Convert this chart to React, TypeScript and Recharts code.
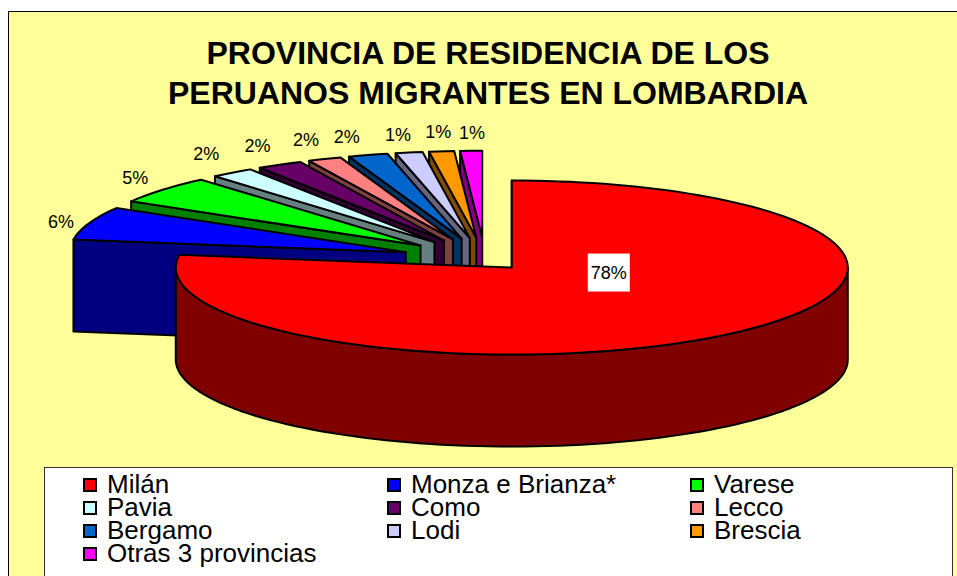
import React from "react";
import { PieChart, Pie, Legend } from "recharts";

const provinces = ["Milán", "Monza e Brianza*", "Varese", "Pavia", "Como", "Lecco", "Bergamo", "Lodi", "Brescia", "Otras 3 provincias"];
const shares = [77.5, 6.15, 5.2, 2.1, 2.2, 1.6, 1.9, 1.3, 1.2, 1.05];
const labels = ["78%", "6%", "5%", "2%", "2%", "2%", "2%", "1%", "1%", "1%"];
const topColors = ["#FF0000", "#0000FF", "#00FF00", "#CCFFFF", "#660066", "#FF8080", "#0066CC", "#CCCCFF", "#FF9900", "#FF00FF"];
const wallColors = ["#800000", "#000080", "#008000", "#668080", "#330033", "#804040", "#003366", "#666680", "#804C00", "#800080"];
const titleLines = ["PROVINCIA DE RESIDENCIA DE LOS", "PERUANOS MIGRANTES EN LOMBARDIA"];

const FONT = "'Liberation Sans', Arial, sans-serif";
const RX = 336;
const SQUASH = 87 / 336;
const DEPTH = 92;
const explodeOf = (i: number) => (i === 0 ? 41 : 84);
const rad = (d: number) => (d * Math.PI) / 180;
const labelNudgeX = [0, 3, -2, -6, -6, -6, -12, -5, 0, 2];
const labelNudgeY = [0, 5, 0, -3, -2, -1, 0, 1, 0, 1];

// The largest slice paints last, so it sits in front of the others.
const rows = provinces
  .map((name, i) => ({ name, value: shares[i], index: i, label: labels[i] }))
  .reverse();

function geometry(p: any) {
  const cwA = 90 - p.endAngle + 360;
  const cwB = 90 - p.startAngle + 360;
  const mid = (cwA + cwB) / 2;
  const e = explodeOf(p.payload?.index ?? p.index);
  const ax = p.cx + e * Math.sin(rad(mid));
  const ay = p.cy - e * SQUASH * Math.cos(rad(mid));
  const pt = (a: number, dy = 0): [number, number] => [
    ax + RX * Math.sin(rad(a)),
    ay - RX * SQUASH * Math.cos(rad(a)) + dy,
  ];
  return { cwA, cwB, mid, ax, ay, pt };
}

function arcPoints(pt: any, a: number, b: number, dy = 0) {
  const out: string[] = [];
  const n = Math.max(2, Math.ceil(Math.abs(b - a) / 2));
  for (let k = 0; k <= n; k++) {
    const [x, y] = pt(a + ((b - a) * k) / n, dy);
    out.push(`${x.toFixed(2)},${y.toFixed(2)}`);
  }
  return out;
}

function Slice3D(p: any) {
  const idx = p.payload?.index ?? p.index;
  const { cwA, cwB, ax, ay, pt } = geometry(p);
  const top = [`${ax},${ay}`, ...arcPoints(pt, cwA, cwB)].join(" ");
  const [sx, sy] = pt(cwA);
  const face = `${ax},${ay} ${sx},${sy} ${sx},${sy + DEPTH} ${ax},${ay + DEPTH}`;
  const a = Math.max(cwA, 90);
  const b = Math.min(cwB, 270);
  const rim = b > a ? [...arcPoints(pt, a, b), ...arcPoints(pt, b, a, DEPTH)].join(" ") : null;
  const common = { stroke: "#000", strokeWidth: 2, strokeLinejoin: "round" as const };
  return (
    <g>
      <polygon points={face} fill={wallColors[idx]} {...common} />
      {rim && <polygon points={rim} fill={wallColors[idx]} {...common} />}
      <polygon points={top} fill={topColors[idx]} {...common} />
    </g>
  );
}

function SliceLabel(p: any) {
  const idx = p.payload?.index ?? p.index;
  const { ax, ay, mid, pt } = geometry(p);
  if (idx === 0) {
    const x = ax + 97;
    const y = ay + 5;
    return (
      <g>
        <rect x={x - 21} y={y - 19} width={42} height={38} fill="#fff" />
        <text x={x} y={y} textAnchor="middle" dominantBaseline="central" fontFamily={FONT} fontSize={18} fill="#000">
          {labels[idx]}
        </text>
      </g>
    );
  }
  const [ox, oy] = pt(mid);
  return (
    <text
      x={ox + 33 * Math.sin(rad(mid)) + labelNudgeX[idx]}
      y={oy - 19 * Math.cos(rad(mid)) + labelNudgeY[idx]}
      textAnchor="middle"
      dominantBaseline="central"
      fontFamily={FONT}
      fontSize={18}
      fill="#000"
    >
      {labels[idx]}
    </text>
  );
}

const legendRows = [484, 507, 530, 553];
const legendCols = [83, 387, 690];

function LegendBox() {
  return (
    <div style={{ position: "absolute", left: 44, top: 467, width: 909, height: 120, background: "#fff", border: "1px solid #333", boxSizing: "border-box" }}>
      {provinces.map((name, i) => {
        const col = i % 3;
        const row = Math.floor(i / 3);
        return (
          <div key={name} style={{ position: "absolute", left: legendCols[col] - 45, top: legendRows[row] - 468 - 14, height: 28, display: "flex", alignItems: "center", whiteSpace: "nowrap" }}>
            <span style={{ display: "inline-block", width: 10, height: 10, marginRight: 10, marginTop: 2, background: topColors[i], border: "2px solid #000" }} />
            <span style={{ fontFamily: FONT, fontSize: 26, color: "#000", lineHeight: "28px" }}>{name}</span>
          </div>
        );
      })}
    </div>
  );
}

export default function App() {
  return (
    <div style={{ position: "fixed", left: 0, top: 0, width: 957, height: 576, overflow: "hidden", background: "#fff" }}>
      <div style={{ position: "absolute", left: 8, top: 11, width: 1000, height: 700, background: "#FFFF99", border: "1px solid #000", boxSizing: "border-box" }} />
      <div style={{ position: "absolute", left: 0, top: 0 }}>
        <PieChart width={957} height={576} margin={{ top: 0, right: 0, bottom: 0, left: 0 }}>
          <text x={488} y={53} textAnchor="middle" dominantBaseline="central" fontFamily={FONT} fontWeight="bold" fontSize={32} fill="#000">{titleLines[0]}</text>
          <text x={488} y={93} textAnchor="middle" dominantBaseline="central" fontFamily={FONT} fontWeight="bold" fontSize={32} fill="#000">{titleLines[1]}</text>
          <Pie
            data={rows}
            dataKey="value"
            nameKey="name"
            cx={485}
            cy={259.5}
            innerRadius={0}
            outerRadius={RX}
            startAngle={90}
            endAngle={450}
            paddingAngle={0}
            isAnimationActive={false}
            shape={Slice3D}
            label={SliceLabel}
            labelLine={false}
          />
          <Legend content={() => <LegendBox />} wrapperStyle={{ position: "absolute", left: 0, top: 0, width: 0, height: 0 }} />
        </PieChart>
      </div>
    </div>
  );
}
